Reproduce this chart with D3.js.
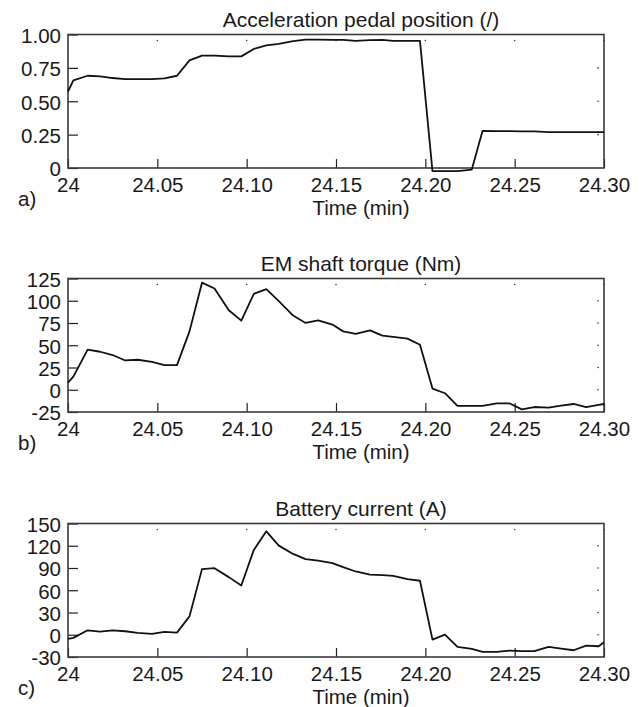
<!DOCTYPE html>
<html>
<head>
<meta charset="utf-8">
<script src="https://cdn.jsdelivr.net/npm/d3@7"></script>
<style>
  html, body { margin: 0; padding: 0; background: #fff; }
  svg { display: block; }
  text { font-family: "Liberation Sans", Arial, Helvetica, sans-serif; fill: #1a1a1a; }
</style>
</head>
<body>
<svg id="chart" width="643" height="707"></svg>
<script>
// Sample times (min), shared by all three recordings
const time = [24.000, 24.003, 24.011, 24.018, 24.025, 24.032, 24.039, 24.047, 24.054, 24.061,
              24.068, 24.075, 24.082, 24.090, 24.097, 24.104, 24.111, 24.118, 24.126, 24.133,
              24.140, 24.148, 24.154, 24.161, 24.169, 24.176, 24.182, 24.190, 24.197, 24.204,
              24.211, 24.218, 24.226, 24.232, 24.240, 24.247, 24.254, 24.261, 24.269, 24.276,
              24.283, 24.290, 24.297, 24.300];

// Acceleration pedal position (/)
const pedal = [0.573, 0.656, 0.691, 0.686, 0.674, 0.666, 0.666, 0.666, 0.671, 0.691,
               0.806, 0.842, 0.842, 0.836, 0.836, 0.892, 0.919, 0.930, 0.950, 0.962,
               0.962, 0.960, 0.960, 0.952, 0.958, 0.960, 0.952, 0.952, 0.952, -0.023,
               -0.023, -0.023, -0.012, 0.278, 0.276, 0.276, 0.275, 0.274, 0.268, 0.268,
               0.268, 0.268, 0.268, 0.268];

// EM shaft torque (Nm)
const torque = [8.1, 14.8, 45.0, 42.7, 39.0, 32.9, 33.7, 31.4, 27.7, 27.7,
                65.6, 120.3, 113.8, 89.3, 77.7, 107.8, 113.0, 99.5, 83.4, 75.1,
                78.0, 73.2, 65.6, 62.7, 66.8, 60.8, 59.3, 57.4, 50.6, 1.3,
                -3.9, -18.2, -18.2, -18.2, -15.2, -15.2, -22.0, -19.4, -20.1, -17.9,
                -16.0, -19.4, -17.0, -16.0];

// Battery current (A)
const current = [-5.6, -4.2, 6.0, 4.3, 6.0, 4.7, 2.5, 1.2, 3.9, 2.9,
                 24.8, 88.5, 89.8, 77.7, 66.4, 114.4, 139.5, 120.2, 109.0, 101.9,
                 100.0, 96.5, 91.2, 85.3, 81.2, 80.4, 79.5, 75.0, 72.8, -6.5,
                 0.2, -16.3, -19.0, -23.0, -23.0, -21.3, -22.2, -22.2, -16.3, -18.6,
                 -20.9, -14.6, -15.5, -10.1];

// Axis ticks and their printed labels
const xTicks = [24, 24.05, 24.10, 24.15, 24.20, 24.25, 24.30];
const xTickLabels = ["24", "24.05", "24.10", "24.15", "24.20", "24.25", "24.30"];
const pedalTicks = [0, 0.25, 0.5, 0.75, 1];
const pedalTickLabels = ["0", "0.25", "0.50", "0.75", "1.00"];
const torqueTicks = [-25, 0, 25, 50, 75, 100, 125];
const torqueTickLabels = ["-25", "0", "25", "50", "75", "100", "125"];
const currentTicks = [-30, 0, 30, 60, 90, 120, 150];
const currentTickLabels = ["-30", "0", "30", "60", "90", "120", "150"];

const titles = ["Acceleration pedal position (/)", "EM shaft torque (Nm)", "Battery current (A)"];
const panelTags = ["a)", "b)", "c)"];
const xLabel = "Time (min)";

// Layout
const plotLeft = 68, plotRight = 604;
const panelTops = [34.5, 278.5, 523.5];
const panelHeight = 133.5;
const textCenterX = 361;
const fontSize = 20.5;
const titleSize = 21;
const fontStack = "'Liberation Sans', Arial, Helvetica, sans-serif";

const panels = [
  { values: pedal,   ticks: pedalTicks,   labels: pedalTickLabels },
  { values: torque,  ticks: torqueTicks,  labels: torqueTickLabels },
  { values: current, ticks: currentTicks, labels: currentTickLabels }
].map((p, i) => ({ ...p, title: titles[i], tag: panelTags[i], top: panelTops[i] }));

const svg = d3.select("#chart");
const x = d3.scaleLinear().domain([xTicks[0], xTicks[xTicks.length - 1]]).range([plotLeft, plotRight]);

panels.forEach(p => {
  const bottom = p.top + panelHeight;
  const y = d3.scaleLinear()
    .domain([p.ticks[0], p.ticks[p.ticks.length - 1]])
    .range([bottom, p.top]);

  const g = svg.append("g");

  // Title above the box
  g.append("text")
    .attr("x", textCenterX).attr("y", p.top - 7.5)
    .attr("text-anchor", "middle")
    .style("font-size", titleSize + "px")
    .text(p.title);

  // Bottom axis: inward ticks, labels below
  const xAxis = d3.axisBottom(x)
    .tickValues(xTicks)
    .tickFormat((d, i) => xTickLabels[i])
    .tickSize(-9)
    .tickPadding(9);
  const gx = g.append("g").attr("transform", `translate(0,${bottom})`).call(xAxis);
  gx.select(".domain").remove();
  gx.selectAll("line").attr("stroke", "#222").attr("stroke-width", 1.2);
  gx.selectAll("text")
    .style("font-size", fontSize + "px")
    .style("font-family", fontStack)
    .attr("fill", "#1a1a1a");

  // Left axis: inward ticks, labels to the left
  const yAxis = d3.axisLeft(y)
    .tickValues(p.ticks)
    .tickFormat((d, i) => p.labels[i])
    .tickSize(-10)
    .tickPadding(7);
  const gy = g.append("g").attr("transform", `translate(${plotLeft},0)`).call(yAxis);
  gy.select(".domain").remove();
  gy.selectAll("line").attr("stroke", "#222").attr("stroke-width", 1.2);
  gy.selectAll("text")
    .attr("dy", "0.38em")
    .style("font-size", fontSize + "px")
    .style("font-family", fontStack)
    .attr("fill", "#1a1a1a");

  // Faint tick marks along the top and right edges
  g.selectAll(".topdot").data(xTicks.slice(1)).join("circle")
    .attr("cx", d => x(d)).attr("cy", p.top + 6).attr("r", 0.8).attr("fill", "#333");
  g.selectAll(".rightdot").data(p.ticks.slice(1, -1)).join("circle")
    .attr("cx", plotRight - 6).attr("cy", d => y(d)).attr("r", 0.8).attr("fill", "#333");

  // Box around the plot area
  g.append("rect")
    .attr("x", plotLeft).attr("y", p.top)
    .attr("width", plotRight - plotLeft).attr("height", panelHeight)
    .attr("fill", "none").attr("stroke", "#3a3a3a").attr("stroke-width", 1.6);

  // Signal trace
  const line = d3.line().x((d, i) => x(time[i])).y(d => y(d));
  g.append("path")
    .datum(p.values)
    .attr("d", line)
    .attr("fill", "none")
    .attr("stroke", "#111")
    .attr("stroke-width", 1.8)
    .attr("stroke-linejoin", "round");

  // Panel tag and axis label
  g.append("text")
    .attr("x", 18).attr("y", bottom + 37.5)
    .style("font-size", fontSize + "px")
    .text(p.tag);
  g.append("text")
    .attr("x", textCenterX).attr("y", bottom + 46.5)
    .attr("text-anchor", "middle")
    .style("font-size", fontSize + "px")
    .text(xLabel);
});
</script>
</body>
</html>
